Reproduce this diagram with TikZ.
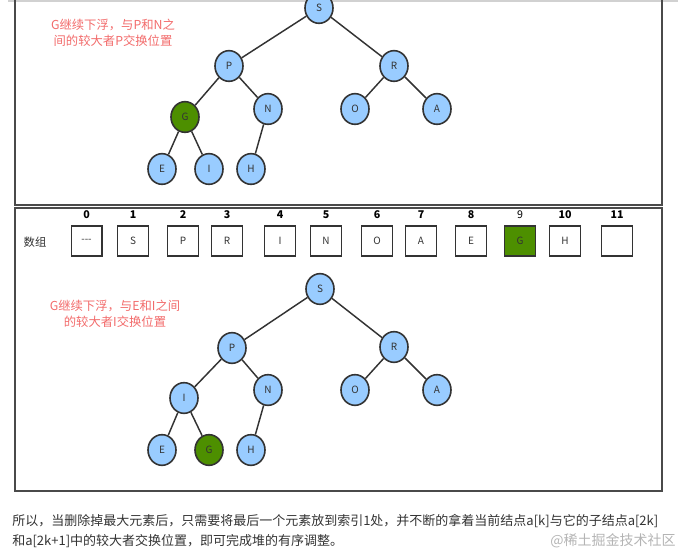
\documentclass[tikz,border=0pt]{standalone}
\usepackage{fontspec}
\setmainfont{Noto Sans CJK SC}
\usetikzlibrary{shapes.geometric}
\definecolor{nodeblue}{HTML}{99CCFF}
\definecolor{nodegreen}{HTML}{4D8F00}
\definecolor{linegray}{HTML}{333333}
\definecolor{framegray}{HTML}{4A4A4A}
\definecolor{notered}{HTML}{F26B6B}
\definecolor{markgray}{HTML}{B4B4B4}
\tikzset{
  heapnode/.style={ellipse, draw=linegray, line width=1.2pt, fill=nodeblue,
    minimum width=21pt, minimum height=23pt, inner sep=0pt,
    font=\fontsize{7.5}{8}\selectfont, text=linegray},
  movednode/.style={heapnode, fill=nodegreen},
  cell/.style={draw=linegray, line width=1pt, minimum width=23pt,
    minimum height=22.5pt, inner sep=0pt, font=\fontsize{7.5}{8}\selectfont, text=linegray},
  movedcell/.style={cell, fill=nodegreen},
  idx/.style={font=\bfseries\fontsize{8}{9}\selectfont},
  plainidx/.style={font=\fontsize{8}{9}\selectfont},
  note/.style={text=notered, align=center, font=\fontsize{9.25}{12}\selectfont},
  panel/.style={draw=framegray, line width=1.1pt},
  edge/.style={draw=linegray, line width=1.1pt}
}
\begin{document}
\begin{tikzpicture}[x=0.75pt, y=-0.75pt]
  \useasboundingbox (0,0) rectangle (678,552);
  % page rule and the two panels
  \draw[draw=black!18, line width=1.5pt] (8,1) -- (678,1);
  \draw[panel] (15,-10) rectangle (662,205);
  \draw[panel] (15,208) rectangle (662,491);

  % first heap: G swapped with P
  \node[note] (note1) at (113,33) {G继续下浮，与P和N之\\间的较大者P交换位置};
  \node[heapnode] (s1) at (319,8) {S};
  \node[heapnode] (p1) at (229,66) {P};
  \node[heapnode] (r1) at (394,66) {R};
  \node[movednode] (g1) at (185,117) {G};
  \node[heapnode] (n1) at (268,109) {N};
  \node[heapnode] (o1) at (355,109) {O};
  \node[heapnode] (a1) at (437,109) {A};
  \node[heapnode] (e1) at (162,169) {E};
  \node[heapnode] (i1) at (209,169) {I};
  \node[heapnode] (h1) at (251,169) {H};
  \foreach \a/\b in {s1/p1, s1/r1, p1/g1, p1/n1, r1/o1, r1/a1, g1/e1, g1/i1, n1/h1} {
    \draw[edge] (\a) -- (\b);
  }

  % array
  \node[font=\fontsize{8.5}{10}\selectfont, text=linegray] (arr) at (35,242) {数组};
  \foreach \x/\v/\cs/\is [count=\k from 0] in {86.5/{-}{-}{-}/cell/idx, 133/S/cell/idx,
      183/P/cell/idx, 227/R/cell/idx, 280/I/cell/idx, 326/N/cell/idx, 377/O/cell/idx,
      421/A/cell/idx, 471/E/cell/idx, 520/G/movedcell/plainidx, 565/H/cell/idx, 617//cell/idx} {
    \node[\cs] (c\k) at (\x,241) {\v};
    \node[\is] (k\k) at (\x,215) {\k};
  }

  % second heap: G swapped with I
  \node[note] (note2) at (115,314) {G继续下浮，与E和I之间\\的较大者I交换位置};
  \node[heapnode] (s2) at (320,289) {S};
  \node[heapnode] (p2) at (232,348) {P};
  \node[heapnode] (r2) at (394,347) {R};
  \node[heapnode] (i2) at (184,398) {I};
  \node[heapnode] (n2) at (268,390) {N};
  \node[heapnode] (o2) at (355,390) {O};
  \node[heapnode] (a2) at (437,390) {A};
  \node[heapnode] (e2) at (162,450) {E};
  \node[movednode] (g2) at (209,450) {G};
  \node[heapnode] (h2) at (251,450) {H};
  \foreach \a/\b in {s2/p2, s2/r2, p2/i2, p2/n2, r2/o2, r2/a2, i2/e2, i2/g2, n2/h2} {
    \draw[edge] (\a) -- (\b);
  }

  % caption below
  \node[anchor=west, inner sep=0pt, text=linegray, font=\fontsize{9.75}{12}\selectfont] (txt1) at (12,521)
    {所以，当删除掉最大元素后，只需要将最后一个元素放到索引1处，并不断的拿着当前结点a[k]与它的子结点a[2k]};
  \node[anchor=west, inner sep=0pt, text=linegray, font=\fontsize{9.75}{12}\selectfont] (txt2) at (12,541)
    {和a[2k+1]中的较大者交换位置，即可完成堆的有序调整。};
  \node[anchor=east, inner sep=0pt, text=markgray, font=\fontsize{10.5}{12}\selectfont] (mark) at (676,541)
    {@稀土掘金技术社区};
\end{tikzpicture}
\end{document}
